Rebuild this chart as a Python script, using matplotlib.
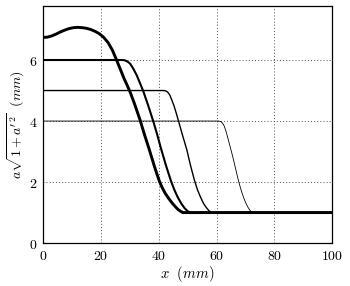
import numpy as np
import matplotlib
matplotlib.use("Agg")
import matplotlib.pyplot as plt
from matplotlib.ticker import FuncFormatter

plt.rcParams["mathtext.fontset"] = "cm"
plt.rcParams["font.family"] = "serif"

# curves (x in mm, y in mm)
x_a = [0, 1.5, 3, 4.5, 6, 7.5, 9, 10.5, 12, 13.5, 15, 16.5, 18, 19.5, 21, 22.5, 24, 25.3,
       26.5, 28, 29.2, 30.2, 31.5, 32.6, 33.6, 35, 36.8, 38.5, 39.4, 40.2, 41.1, 42.2,
       43.4, 44.6, 45.7, 46.7, 47.6, 48.4, 100]
y_a = [6.74, 6.75, 6.79, 6.85, 6.92, 6.98, 7.03, 7.06, 7.07, 7.06, 7.04, 7.0, 6.94, 6.86, 6.74,
       6.57, 6.32, 6.03, 5.75, 5.4, 5.15, 4.93, 4.6, 4.3, 4.02, 3.58, 3.05, 2.52, 2.26, 2.04,
       1.84, 1.64, 1.47, 1.32, 1.2, 1.1, 1.04, 1.0, 1.0]

x_b = [0, 27.5, 28.3, 29.2, 30.1, 31.2, 32.4, 33.5, 34.7, 36.4, 38.1, 39.5, 40.8, 42.5,
       44.2, 45.4, 46.6, 47.8, 49.0, 50.1, 51.1, 100]
y_b = [6.0, 6.0, 5.99, 5.95, 5.88, 5.72, 5.5, 5.25, 4.97, 4.5, 4.0, 3.55, 3.1, 2.55,
       2.05, 1.75, 1.5, 1.3, 1.14, 1.04, 1.0, 1.0]

x_c = [0, 41.6, 42.4, 43.1, 43.8, 44.5, 45.3, 46.1, 46.8, 48.2, 49.7, 51.0, 52.3, 53.4,
       54.5, 55.5, 56.5, 57.5, 58.4, 100]
y_c = [5.0, 5.0, 4.99, 4.95, 4.86, 4.7, 4.5, 4.25, 4.02, 3.55, 3.07, 2.55, 2.08, 1.75,
       1.5, 1.3, 1.16, 1.05, 1.0, 1.0]

x_d = [0, 60.8, 61.5, 62.1, 62.7, 63.3, 63.9, 64.6, 65.3, 66.0, 66.7, 67.4, 68.1, 68.8,
       69.5, 70.2, 70.9, 71.6, 72.3, 100]
y_d = [4.0, 4.0, 3.98, 3.93, 3.83, 3.66, 3.45, 3.2, 2.95, 2.68, 2.4, 2.12, 1.87, 1.65,
       1.46, 1.3, 1.17, 1.07, 1.0, 1.0]

x_ticks = [0, 20, 40, 60, 80, 100]
y_ticks = [0, 2, 4, 6]

fig = plt.figure(figsize=(3.5, 2.86), dpi=100)
ax = fig.add_axes([0.123, 0.150, 0.826, 0.829])

ax.plot(x_d, y_d, color="black", lw=0.6)
ax.plot(x_c, y_c, color="black", lw=1.0)
ax.plot(x_b, y_b, color="black", lw=1.5)
ax.plot(x_a, y_a, color="black", lw=2.1)

ax.set_xlim(0, 100)
ax.set_ylim(0, 7.77)
ax.set_xticks(x_ticks)
ax.set_yticks(y_ticks)
fmt = FuncFormatter(lambda v, p: r"$%g$" % v)
ax.xaxis.set_major_formatter(fmt)
ax.yaxis.set_major_formatter(fmt)
ax.tick_params(length=0, labelsize=10, pad=4)
ax.grid(True, linestyle=(0, (1, 2.2)), color="0.3", lw=0.7)
for s in ax.spines.values():
    s.set_linewidth(0.9)

ax.set_xlabel(r"$x\ \ (mm)$", fontsize=10.5, labelpad=1)
ax.set_ylabel(r"$a\sqrt{1+a'^{2}}\ \ (mm)$", fontsize=10, labelpad=1)

fig.savefig("out.png", dpi=100)
